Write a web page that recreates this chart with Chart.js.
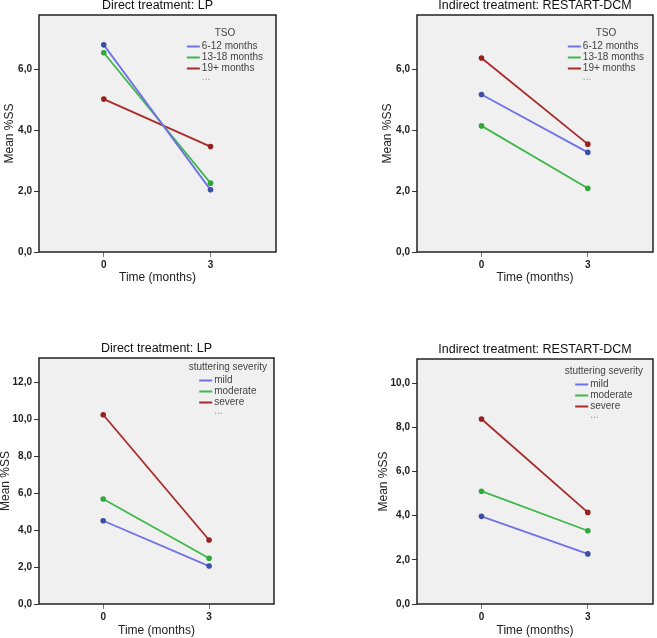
<!DOCTYPE html>
<html>
<head>
<meta charset="utf-8">
<script src="https://cdn.jsdelivr.net/npm/chart.js@4"></script>
<style>
  body { margin: 0; background: #fff; width: 657px; height: 638px; position: relative; overflow: hidden; }
  canvas { position: absolute; }
</style>
</head>
<body>
<canvas id="lpTso" width="300" height="300" style="left:0;top:0"></canvas>
<canvas id="rdTso" width="279" height="300" style="left:378px;top:0"></canvas>
<canvas id="lpSev" width="300" height="295" style="left:0;top:343px"></canvas>
<canvas id="rdSev" width="279" height="294" style="left:378px;top:344px"></canvas>
<script>
// time points (months) and the x tick labels
const timePoints = [0, 3];
const xTicks = [0, 3];

// legend groups
const tsoLabels = ['6-12 months', '13-18 months', '19+ months'];
const severityLabels = ['mild', 'moderate', 'severe'];

// Direct treatment: LP, by TSO
const lpTso612 = [6.80, 2.04];
const lpTso1318 = [6.54, 2.26];
const lpTso19 = [5.02, 3.46];

// Indirect treatment: RESTART-DCM, by TSO
const rdTso612 = [5.17, 3.27];
const rdTso1318 = [4.14, 2.09];
const rdTso19 = [6.37, 3.54];

// Direct treatment: LP, by stuttering severity
const lpMild = [4.50, 2.05];
const lpModerate = [5.68, 2.47];
const lpSevere = [10.23, 3.46];

// Indirect treatment: RESTART-DCM, by stuttering severity
const rdMild = [3.97, 2.27];
const rdModerate = [5.11, 3.32];
const rdSevere = [8.38, 4.15];

// y tick values per panel
const yTicksTso = [0, 2, 4, 6];
const yTicksLpSev = [0, 2, 4, 6, 8, 10, 12];
const yTicksRdSev = [0, 2, 4, 6, 8, 10];

const lineColors = ['#6f72e6', '#3fb84b', '#a82a2a'];
const pointColors = ['#3c4fa6', '#2fa83c', '#9a1f1f'];

Chart.defaults.font.family = '"Liberation Sans", Arial, sans-serif';

// grey plot background + black frame, like the SPSS output
const framePlugin = {
  id: 'frame',
  beforeDraw(chart) {
    const { ctx, chartArea: a } = chart;
    ctx.save();
    ctx.fillStyle = '#f0f0f0';
    ctx.fillRect(a.left, a.top, a.right - a.left, a.bottom - a.top);
    ctx.restore();
  },
  afterDraw(chart) {
    const { ctx, chartArea: a } = chart;
    ctx.save();
    ctx.strokeStyle = '#222';
    ctx.lineWidth = 1.5;
    ctx.strokeRect(a.left, a.top, a.right - a.left, a.bottom - a.top);
    ctx.restore();
  }
};

// title centred over the plot box
const titlePlugin = {
  id: 'panelTitle',
  afterDraw(chart, args, opts) {
    const { ctx, chartArea: a } = chart;
    ctx.save();
    ctx.font = '12.5px "Liberation Sans", Arial, sans-serif';
    ctx.fillStyle = '#111';
    ctx.textAlign = 'center';
    ctx.textBaseline = 'middle';
    ctx.fillText(opts.text, (a.left + a.right) / 2, a.top - 9);
    ctx.restore();
  }
};

// legend inside the plot, top right
const legendPlugin = {
  id: 'panelLegend',
  afterDraw(chart, args, opts) {
    const { ctx, chartArea: a } = chart;
    const items = chart.data.datasets;
    ctx.save();
    ctx.font = '10px "Liberation Sans", Arial, sans-serif';
    const lineLen = 13, gap = 2, rowH = 11;
    const maxText = Math.max(...items.map(d => ctx.measureText(d.label).width));
    const blockW = lineLen + gap + maxText;
    const titleW = ctx.measureText(opts.title).width;
    const w = Math.max(blockW, titleW);
    const right = a.right - opts.right;
    const left = right - w;
    const titleY = a.top + opts.top;
    ctx.fillStyle = '#444';
    ctx.textBaseline = 'middle';
    ctx.textAlign = 'center';
    ctx.fillText(opts.title, left + w / 2, titleY);
    const itemLeft = left + (w - blockW) / 2;
    ctx.textAlign = 'left';
    items.forEach((d, i) => {
      const y = titleY + 13.5 + i * rowH;
      ctx.strokeStyle = d.borderColor;
      ctx.lineWidth = 2;
      ctx.beginPath();
      ctx.moveTo(itemLeft, y);
      ctx.lineTo(itemLeft + lineLen, y);
      ctx.stroke();
      ctx.fillStyle = '#444';
      ctx.fillText(d.label, itemLeft + lineLen + gap, y);
    });
    ctx.fillStyle = '#999';
    ctx.fillText('...', itemLeft + lineLen + gap, titleY + 13.5 + items.length * rowH - 2);
    ctx.restore();
  }
};

function makeChart(id, cfg) {
  return new Chart(document.getElementById(id), {
    type: 'line',
    data: {
      datasets: cfg.series.map((s, i) => ({
        label: cfg.labels[i],
        data: timePoints.map((t, j) => ({ x: t, y: s[j] })),
        borderColor: lineColors[i],
        borderWidth: 1.8,
        pointRadius: 2.8,
        pointBorderWidth: 0,
        pointBackgroundColor: pointColors[i],
        fill: false
      }))
    },
    options: {
      responsive: false,
      animation: false,
      layout: { padding: { top: 15, right: cfg.padRight, left: 0, bottom: 0 } },
      plugins: {
        legend: { display: false },
        tooltip: { enabled: false },
        panelTitle: { text: cfg.title },
        panelLegend: { title: cfg.legendTitle, right: cfg.legendRight, top: cfg.legendTop }
      },
      scales: {
        x: {
          type: 'linear',
          min: -1.82,
          max: 4.84,
          afterBuildTicks: s => { s.ticks = xTicks.map(v => ({ value: v })); },
          afterFit: s => { s.height = cfg.xHeight; },
          grid: { drawOnChartArea: false, drawTicks: true, tickLength: 5, color: '#777' },
          border: { display: false },
          ticks: {
            font: { size: 10, weight: 'bold' }, color: '#222', padding: 2,
            maxRotation: 0, autoSkip: false,
            callback: v => String(v)
          },
          title: {
            display: true, text: 'Time (months)', color: '#222',
            font: { size: 12 }, padding: { top: 0, bottom: cfg.xTitlePad }
          }
        },
        y: {
          min: 0,
          max: cfg.yMax,
          afterBuildTicks: s => { s.ticks = cfg.yTicks.map(v => ({ value: v })); },
          afterFit: s => { s.width = 39; },
          grid: { drawOnChartArea: false, drawTicks: true, tickLength: 5, color: '#333' },
          border: { display: false },
          ticks: {
            font: { size: 10, weight: 'bold' }, color: '#222', padding: 2,
            callback: v => v.toFixed(1).replace('.', ',')
          },
          title: {
            display: true, text: 'Mean %SS', color: '#222',
            font: { size: 12 }, padding: { top: cfg.yTitlePad, bottom: 0 }
          }
        }
      }
    },
    plugins: [framePlugin, titlePlugin, legendPlugin]
  });
}

makeChart('lpTso', {
  title: 'Direct treatment: LP',
  series: [lpTso612, lpTso1318, lpTso19], labels: tsoLabels,
  legendTitle: 'TSO', legendRight: 13, legendTop: 18,
  yMax: 7.78, yTicks: yTicksTso,
  padRight: 24, xHeight: 48, xTitlePad: 14.8, yTitlePad: 2.8
});

makeChart('rdTso', {
  title: 'Indirect treatment: RESTART-DCM',
  series: [rdTso612, rdTso1318, rdTso19], labels: tsoLabels,
  legendTitle: 'TSO', legendRight: 9, legendTop: 18,
  yMax: 7.78, yTicks: yTicksTso,
  padRight: 2, xHeight: 48, xTitlePad: 14.8, yTitlePad: 2.8
});

makeChart('lpSev', {
  title: 'Direct treatment: LP',
  series: [lpMild, lpModerate, lpSevere], labels: severityLabels,
  legendTitle: 'stuttering severity', legendRight: 7, legendTop: 9,
  yMax: 13.3, yTicks: yTicksLpSev,
  padRight: 26, xHeight: 34, xTitlePad: 0, yTitlePad: -1.5
});

makeChart('rdSev', {
  title: 'Indirect treatment: RESTART-DCM',
  series: [rdMild, rdModerate, rdSevere], labels: severityLabels,
  legendTitle: 'stuttering severity', legendRight: 10, legendTop: 12,
  yMax: 11.1, yTicks: yTicksRdSev,
  padRight: 3, xHeight: 34, xTitlePad: 0, yTitlePad: -1.5
});
</script>
</body>
</html>
